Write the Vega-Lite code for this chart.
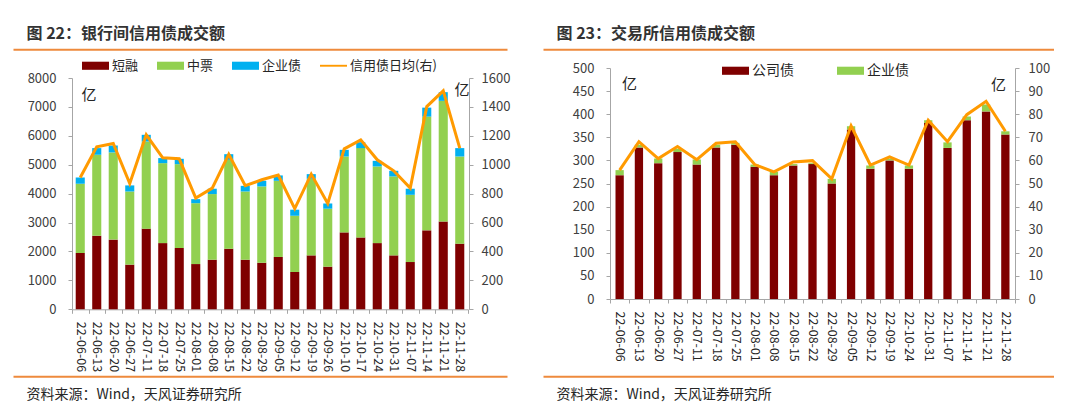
{
  "$schema": "https://vega.github.io/schema/vega-lite/v6.json",
  "background": "white",
  "padding": {"left": 6, "top": 25, "right": 0, "bottom": 0},
  "bounds": "flush",
  "spacing": 36,
  "resolve": {"scale": {"color": "independent"}, "legend": {"color": "independent"}},
  "config": {
    "font": "Noto Sans CJK SC",
    "view": {"stroke": null},
    "axis": {
      "grid": false,
      "labelFont": "Noto Sans CJK SC",
      "labelColor": "#404040",
      "labelFontSize": 13,
      "domainColor": "#A6A6A6",
      "tickColor": "#A6A6A6",
      "tickSize": 4,
      "titleFont": "Noto Sans CJK SC",
      "titleColor": "#262626",
      "titleFontWeight": "normal"
    },
    "legend": {
      "labelFont": "Noto Sans CJK SC",
      "labelColor": "#262626"
    }
  },
  "datasets": {
    "kinds": [
      {"type": "短融", "k": 1},
      {"type": "公司债", "k": 1},
      {"type": "中票", "k": 2},
      {"type": "企业债", "k": 3}
    ],
    "interbank": [
      {"d": "22-06-06", "短融": 1950, "中票": 2390, "企业债": 220, "日均": 912},
      {"d": "22-06-13", "短融": 2545, "中票": 2800, "企业债": 230, "日均": 1124},
      {"d": "22-06-20", "短融": 2410, "中票": 3015, "企业债": 240, "日均": 1147},
      {"d": "22-06-27", "短融": 1545, "中票": 2530, "企业债": 210, "日均": 870},
      {"d": "22-07-11", "短融": 2790, "中票": 3015, "企业债": 230, "日均": 1207},
      {"d": "22-07-18", "短融": 2290, "中票": 2765, "企业债": 175, "日均": 1048},
      {"d": "22-07-25", "短融": 2120, "中票": 2900, "企业债": 185, "日均": 1041},
      {"d": "22-08-01", "短融": 1565, "中票": 2105, "企业债": 140, "日均": 769},
      {"d": "22-08-08", "短融": 1715, "中票": 2270, "企业债": 185, "日均": 838},
      {"d": "22-08-15", "短融": 2095, "中票": 3075, "企业债": 195, "日均": 1072},
      {"d": "22-08-22", "短融": 1715, "中票": 2360, "企业债": 195, "日均": 855},
      {"d": "22-08-29", "短融": 1610, "中票": 2640, "企业债": 195, "日均": 896},
      {"d": "22-09-05", "短融": 1810, "中票": 2635, "企业债": 185, "日均": 928},
      {"d": "22-09-12", "短融": 1290, "中票": 1945, "企业债": 210, "日均": 696},
      {"d": "22-09-19", "短融": 1865, "中票": 2650, "企业债": 160, "日均": 935},
      {"d": "22-09-26", "短融": 1475, "中票": 2005, "企业债": 180, "日均": 732},
      {"d": "22-10-10", "短融": 2660, "中票": 2625, "企业债": 230, "日均": 1110},
      {"d": "22-10-17", "短融": 2485, "中票": 3090, "企业债": 205, "日均": 1172},
      {"d": "22-10-24", "短融": 2290, "中票": 2650, "企业债": 195, "日均": 1034},
      {"d": "22-10-31", "短融": 1865, "中票": 2730, "企业债": 195, "日均": 958},
      {"d": "22-11-07", "短融": 1635, "中票": 2325, "企业债": 210, "日均": 838},
      {"d": "22-11-14", "短融": 2730, "中票": 3935, "企业债": 310, "日均": 1402},
      {"d": "22-11-21", "短融": 3040, "中票": 4170, "企业债": 300, "日均": 1511},
      {"d": "22-11-28", "短融": 2270, "中票": 3015, "企业债": 290, "日均": 1115}
    ],
    "exchange": [
      {"d": "22-06-06", "公司债": 268, "企业债": 11, "日均": 55.8},
      {"d": "22-06-13", "公司债": 328, "企业债": 6, "日均": 68.1},
      {"d": "22-06-20", "公司债": 294, "企业债": 10, "日均": 60.8},
      {"d": "22-06-27", "公司债": 318, "企业债": 7, "日均": 66.0},
      {"d": "22-07-11", "公司债": 291, "企业债": 11, "日均": 60.3},
      {"d": "22-07-18", "公司债": 328, "企业债": 6, "日均": 67.4},
      {"d": "22-07-25", "公司债": 334, "企业债": 4, "日均": 68.1},
      {"d": "22-08-01", "公司债": 286, "企业债": 5, "日均": 58.2},
      {"d": "22-08-08", "公司债": 268, "企业债": 7, "日均": 55.0},
      {"d": "22-08-15", "公司债": 289, "企业债": 3, "日均": 59.3},
      {"d": "22-08-22", "公司债": 292, "企业债": 2, "日均": 59.9},
      {"d": "22-08-29", "公司债": 250, "企业债": 10, "日均": 52.0},
      {"d": "22-09-05", "公司债": 367, "企业债": 7, "日均": 75.0},
      {"d": "22-09-12", "公司债": 282, "企业债": 7, "日均": 58.0},
      {"d": "22-09-19", "公司债": 300, "企业债": 4, "日均": 61.5},
      {"d": "22-10-24", "公司债": 282, "企业债": 7, "日均": 58.0},
      {"d": "22-10-31", "公司债": 381, "企业债": 6, "日均": 77.4},
      {"d": "22-11-07", "公司债": 327, "企业债": 12, "日均": 68.1},
      {"d": "22-11-14", "公司债": 387, "企业债": 8, "日均": 79.8},
      {"d": "22-11-21", "公司债": 406, "企业债": 15, "日均": 85.6},
      {"d": "22-11-28", "公司债": 356, "企业债": 7, "日均": 72.6}
    ],
    "frame": []
  },
  "hconcat": [
    {
      "width": 494,
      "height": 241.3,
      "data": {"name": "interbank"},
      "resolve": {
        "scale": {"x": "independent", "y": "independent"},
        "axis": {"x": "independent", "y": "independent"}
      },
      "layer": [
        {
          "transform": [
            {"fold": ["短融", "中票", "企业债"], "as": ["type", "v"]},
            {"lookup": "type", "from": {"data": {"name": "kinds"}, "key": "type", "fields": ["k"]}}
          ],
          "mark": {"type": "bar", "width": {"band": 0.55}},
          "encoding": {
            "x": {
              "field": "d", "type": "ordinal", "sort": null,
              "scale": {"range": [59, 455], "paddingInner": 0, "paddingOuter": 0},
              "axis": {"orient": "bottom", "domain": true, "tickBand": "extent", "labelAngle": 90, "labelPadding": 8, "labelFontSize": 12.5, "labelColor": "#262626", "title": null}
            },
            "y": {
              "field": "v", "type": "quantitative", "stack": "zero",
              "scale": {"domain": [0, 8000], "range": [241.3, 10], "nice": false},
              "axis": {
                "orient": "left", "offset": -59, "values": [0, 1000, 2000, 3000, 4000, 5000, 6000, 7000, 8000],
                "format": "d", "labelPadding": 12, "title": "亿", "titleAngle": 0, "titleX": 16.5, "titleY": 26,
                "titleAlign": "center", "titleBaseline": "middle", "titleFontSize": 15
              }
            },
            "color": {
              "field": "type", "type": "nominal",
              "scale": {"domain": ["短融", "中票", "企业债", "信用债日均(右)"], "range": ["#7F0000", "#92D050", "#00B0F0", "#FF9A00"]},
              "legend": {
                "orient": "none", "legendX": 69, "legendY": -16, "direction": "horizontal", "title": null,
                "symbolType": "M-1,-0.3H1V0.3H-1Z", "symbolSize": 729, "symbolStrokeWidth": 0,
                "labelFontSize": 13, "labelOffset": 3, "columnPadding": 18,
                "encode": {
                  "symbols": {
                    "update": {
                      "shape": {"signal": "datum.value === '信用债日均(右)' ? 'M-1,-0.07H1V0.07H-1Z' : 'M-1,-0.3H1V0.3H-1Z'"}
                    }
                  }
                }
              }
            },
            "order": {"field": "k", "type": "quantitative"}
          }
        },
        {
          "mark": {"type": "line", "strokeWidth": 3},
          "encoding": {
            "x": {
              "field": "d", "type": "ordinal", "sort": null,
              "scale": {"range": [59, 455], "paddingInner": 0, "paddingOuter": 0},
              "axis": null
            },
            "y": {
              "field": "日均", "type": "quantitative",
              "scale": {"domain": [0, 1600], "range": [241.3, 10], "nice": false},
              "axis": {
                "orient": "right", "offset": -38, "values": [0, 200, 400, 600, 800, 1000, 1200, 1400, 1600],
                "format": "d", "labelPadding": 8, "title": "亿", "titleAngle": 0, "titleX": -7.5, "titleY": 21,
                "titleAlign": "center", "titleBaseline": "middle", "titleFontSize": 15
              }
            },
            "color": {"datum": "信用债日均(右)"}
          }
        },
        {
          "data": {"name": "frame"},
          "mark": "rule",
          "encoding": {
            "x": {
              "field": "u", "type": "quantitative", "scale": {"domain": [0, 1]},
              "axis": {
                "orient": "top", "offset": 18.7, "labels": false, "ticks": false,
                "domainColor": "#EE8A3C", "domainWidth": 2,
                "title": "图 22：银行间信用债成交额", "titleX": 13, "titleY": -15.5,
                "titleAlign": "left", "titleBaseline": "middle", "titleFontSize": 16,
                "titleFontWeight": "bold", "titleColor": "#333333"
              }
            },
            "y": {"field": "u", "type": "quantitative", "scale": {"domain": [0, 1]}, "axis": null}
          }
        },
        {
          "data": {"name": "frame"},
          "mark": "rule",
          "encoding": {
            "x": {
              "field": "u", "type": "quantitative", "scale": {"domain": [0, 1]},
              "axis": {
                "orient": "bottom", "offset": 67, "labels": false, "ticks": false,
                "domainColor": "#EE8A3C", "domainWidth": 2,
                "title": "资料来源：Wind，天风证券研究所", "titleX": 13, "titleY": 18,
                "titleAlign": "left", "titleBaseline": "middle", "titleFontSize": 14, "titleColor": "#262626"
              }
            },
            "y": {"field": "u", "type": "quantitative", "scale": {"domain": [0, 1]}, "axis": null}
          }
        }
      ]
    },
    {
      "width": 511,
      "height": 231,
      "data": {"name": "exchange"},
      "resolve": {
        "scale": {"x": "independent", "y": "independent"},
        "axis": {"x": "independent", "y": "independent"}
      },
      "layer": [
        {
          "transform": [
            {"fold": ["公司债", "企业债"], "as": ["type", "v"]},
            {"lookup": "type", "from": {"data": {"name": "kinds"}, "key": "type", "fields": ["k"]}}
          ],
          "mark": {"type": "bar", "width": {"band": 0.43}},
          "encoding": {
            "x": {
              "field": "d", "type": "ordinal", "sort": null,
              "scale": {"range": [67, 472], "paddingInner": 0, "paddingOuter": 0},
              "axis": {"orient": "bottom", "domain": true, "tickBand": "extent", "labelAngle": 90, "labelPadding": 8, "labelFontSize": 12.5, "labelColor": "#262626", "title": null}
            },
            "y": {
              "field": "v", "type": "quantitative", "stack": "zero",
              "scale": {"domain": [0, 500], "nice": false},
              "axis": {
                "orient": "left", "offset": -67, "values": [0, 50, 100, 150, 200, 250, 300, 350, 400, 450, 500],
                "format": "d", "labelPadding": 12, "title": "亿", "titleAngle": 0, "titleX": 19, "titleY": 15,
                "titleAlign": "center", "titleBaseline": "middle", "titleFontSize": 15
              }
            },
            "color": {
              "field": "type", "type": "nominal",
              "scale": {"domain": ["公司债", "企业债"], "range": ["#7F0000", "#92D050"]},
              "legend": {
                "orient": "none", "legendX": 179, "legendY": -11, "direction": "horizontal", "title": null,
                "symbolType": "M-1,-0.3H1V0.3H-1Z", "symbolSize": 729, "symbolStrokeWidth": 0,
                "labelFontSize": 14, "labelOffset": 3, "columnPadding": 43
              }
            },
            "order": {"field": "k", "type": "quantitative"}
          }
        },
        {
          "mark": {"type": "line", "strokeWidth": 3, "color": "#FF9A00"},
          "encoding": {
            "x": {
              "field": "d", "type": "ordinal", "sort": null,
              "scale": {"range": [67, 472], "paddingInner": 0, "paddingOuter": 0},
              "axis": null
            },
            "y": {
              "field": "日均", "type": "quantitative",
              "scale": {"domain": [0, 100], "nice": false},
              "axis": {
                "orient": "right", "offset": -39, "values": [0, 10, 20, 30, 40, 50, 60, 70, 80, 90, 100],
                "format": "d", "labelPadding": 9, "title": "亿", "titleAngle": 0, "titleX": -17, "titleY": 16,
                "titleAlign": "center", "titleBaseline": "middle", "titleFontSize": 15
              }
            }
          }
        },
        {
          "data": {"name": "frame"},
          "mark": "rule",
          "encoding": {
            "x": {
              "field": "u", "type": "quantitative", "scale": {"domain": [0, 1]},
              "axis": {
                "orient": "top", "offset": 18.7, "labels": false, "ticks": false,
                "domainColor": "#EE8A3C", "domainWidth": 2,
                "title": "图 23：交易所信用债成交额", "titleX": 13, "titleY": -15.5,
                "titleAlign": "left", "titleBaseline": "middle", "titleFontSize": 16,
                "titleFontWeight": "bold", "titleColor": "#333333"
              }
            },
            "y": {"field": "u", "type": "quantitative", "scale": {"domain": [0, 1]}, "axis": null}
          }
        },
        {
          "data": {"name": "frame"},
          "mark": "rule",
          "encoding": {
            "x": {
              "field": "u", "type": "quantitative", "scale": {"domain": [0, 1]},
              "axis": {
                "orient": "bottom", "offset": 77.3, "labels": false, "ticks": false,
                "domainColor": "#EE8A3C", "domainWidth": 2,
                "title": "资料来源：Wind，天风证券研究所", "titleX": 13, "titleY": 18,
                "titleAlign": "left", "titleBaseline": "middle", "titleFontSize": 14, "titleColor": "#262626"
              }
            },
            "y": {"field": "u", "type": "quantitative", "scale": {"domain": [0, 1]}, "axis": null}
          }
        }
      ]
    }
  ]
}
